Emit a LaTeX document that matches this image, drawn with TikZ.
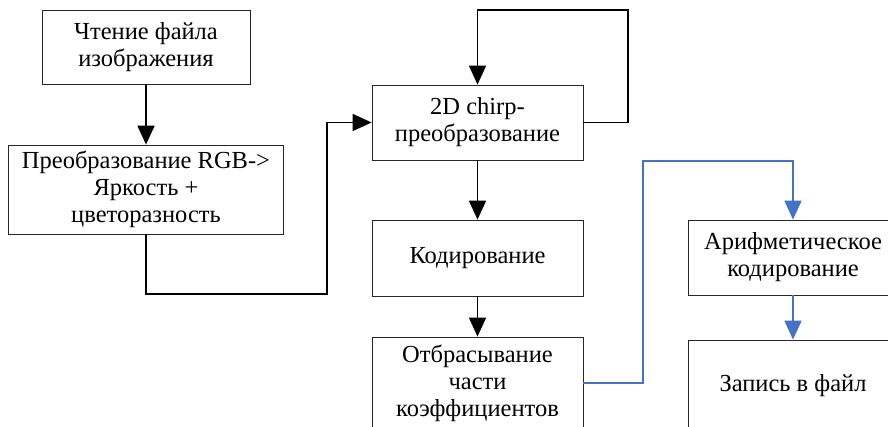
\documentclass[tikz,border=0pt]{standalone}
\usepackage{fontspec}
\setmainfont{Liberation Serif}
\usetikzlibrary{arrows.meta}
\definecolor{linkblue}{RGB}{68,114,196}
\begin{document}
\begin{tikzpicture}[x=1pt,y=-1pt,
blk/.style={draw=black!85,line width=0.8pt,align=center,inner sep=0pt,font=\fontsize{24.5}{27}\selectfont},
flow/.style={line width=1.8pt,-{Triangle[length=19pt,width=17pt]}},
bflow/.style={flow,draw=linkblue,-{Triangle[length=19pt,width=17pt,color=linkblue]}}]
\useasboundingbox (0,0) rectangle (888,427);
\clip (0,0) rectangle (888,427);
%\draw[help lines,step=20] (0,0) grid (888,427);
\node (read) at (146,47) [blk,minimum width=208,minimum height=74] {Чтение файла\\изображения};
\node (ycc) at (146,189.5) [blk,minimum width=275,minimum height=89] {Преобразование RGB->\\Яркость +\\цветоразность};
\node (chirp) at (477.5,122.5) [blk,minimum width=211,minimum height=75] {2D chirp-\\преобразование};
\node (code) at (477.5,258) [blk,minimum width=211,minimum height=76] {Кодирование};
\node (drop) at (477.5,383) [blk,minimum width=211,minimum height=92] {Отбрасывание\\части\\коэффициентов};
\node (arith) at (793,257.5) [blk,minimum width=210,minimum height=75] {Арифметическое\\кодирование};
\node (save) at (793,386) [blk,minimum width=210,minimum height=92] {Запись в файл};
% bends of the connectors
\coordinate (c1) at (327,294);
\coordinate (loop) at (628,10);
\coordinate (c2) at (643,161);
\draw[flow] (read) -- (ycc);
\draw[flow] (ycc.south) |- (c1) |- (chirp.west);
\draw[flow] (chirp.east) -| (loop) -| (chirp.north);
\draw[flow] (chirp) -- (code);
\draw[flow] (code) -- (drop);
\draw[bflow] (drop.east) -| (c2) -| (arith.north);
\draw[bflow] (arith) -- (save);
\end{tikzpicture}
\end{document}
